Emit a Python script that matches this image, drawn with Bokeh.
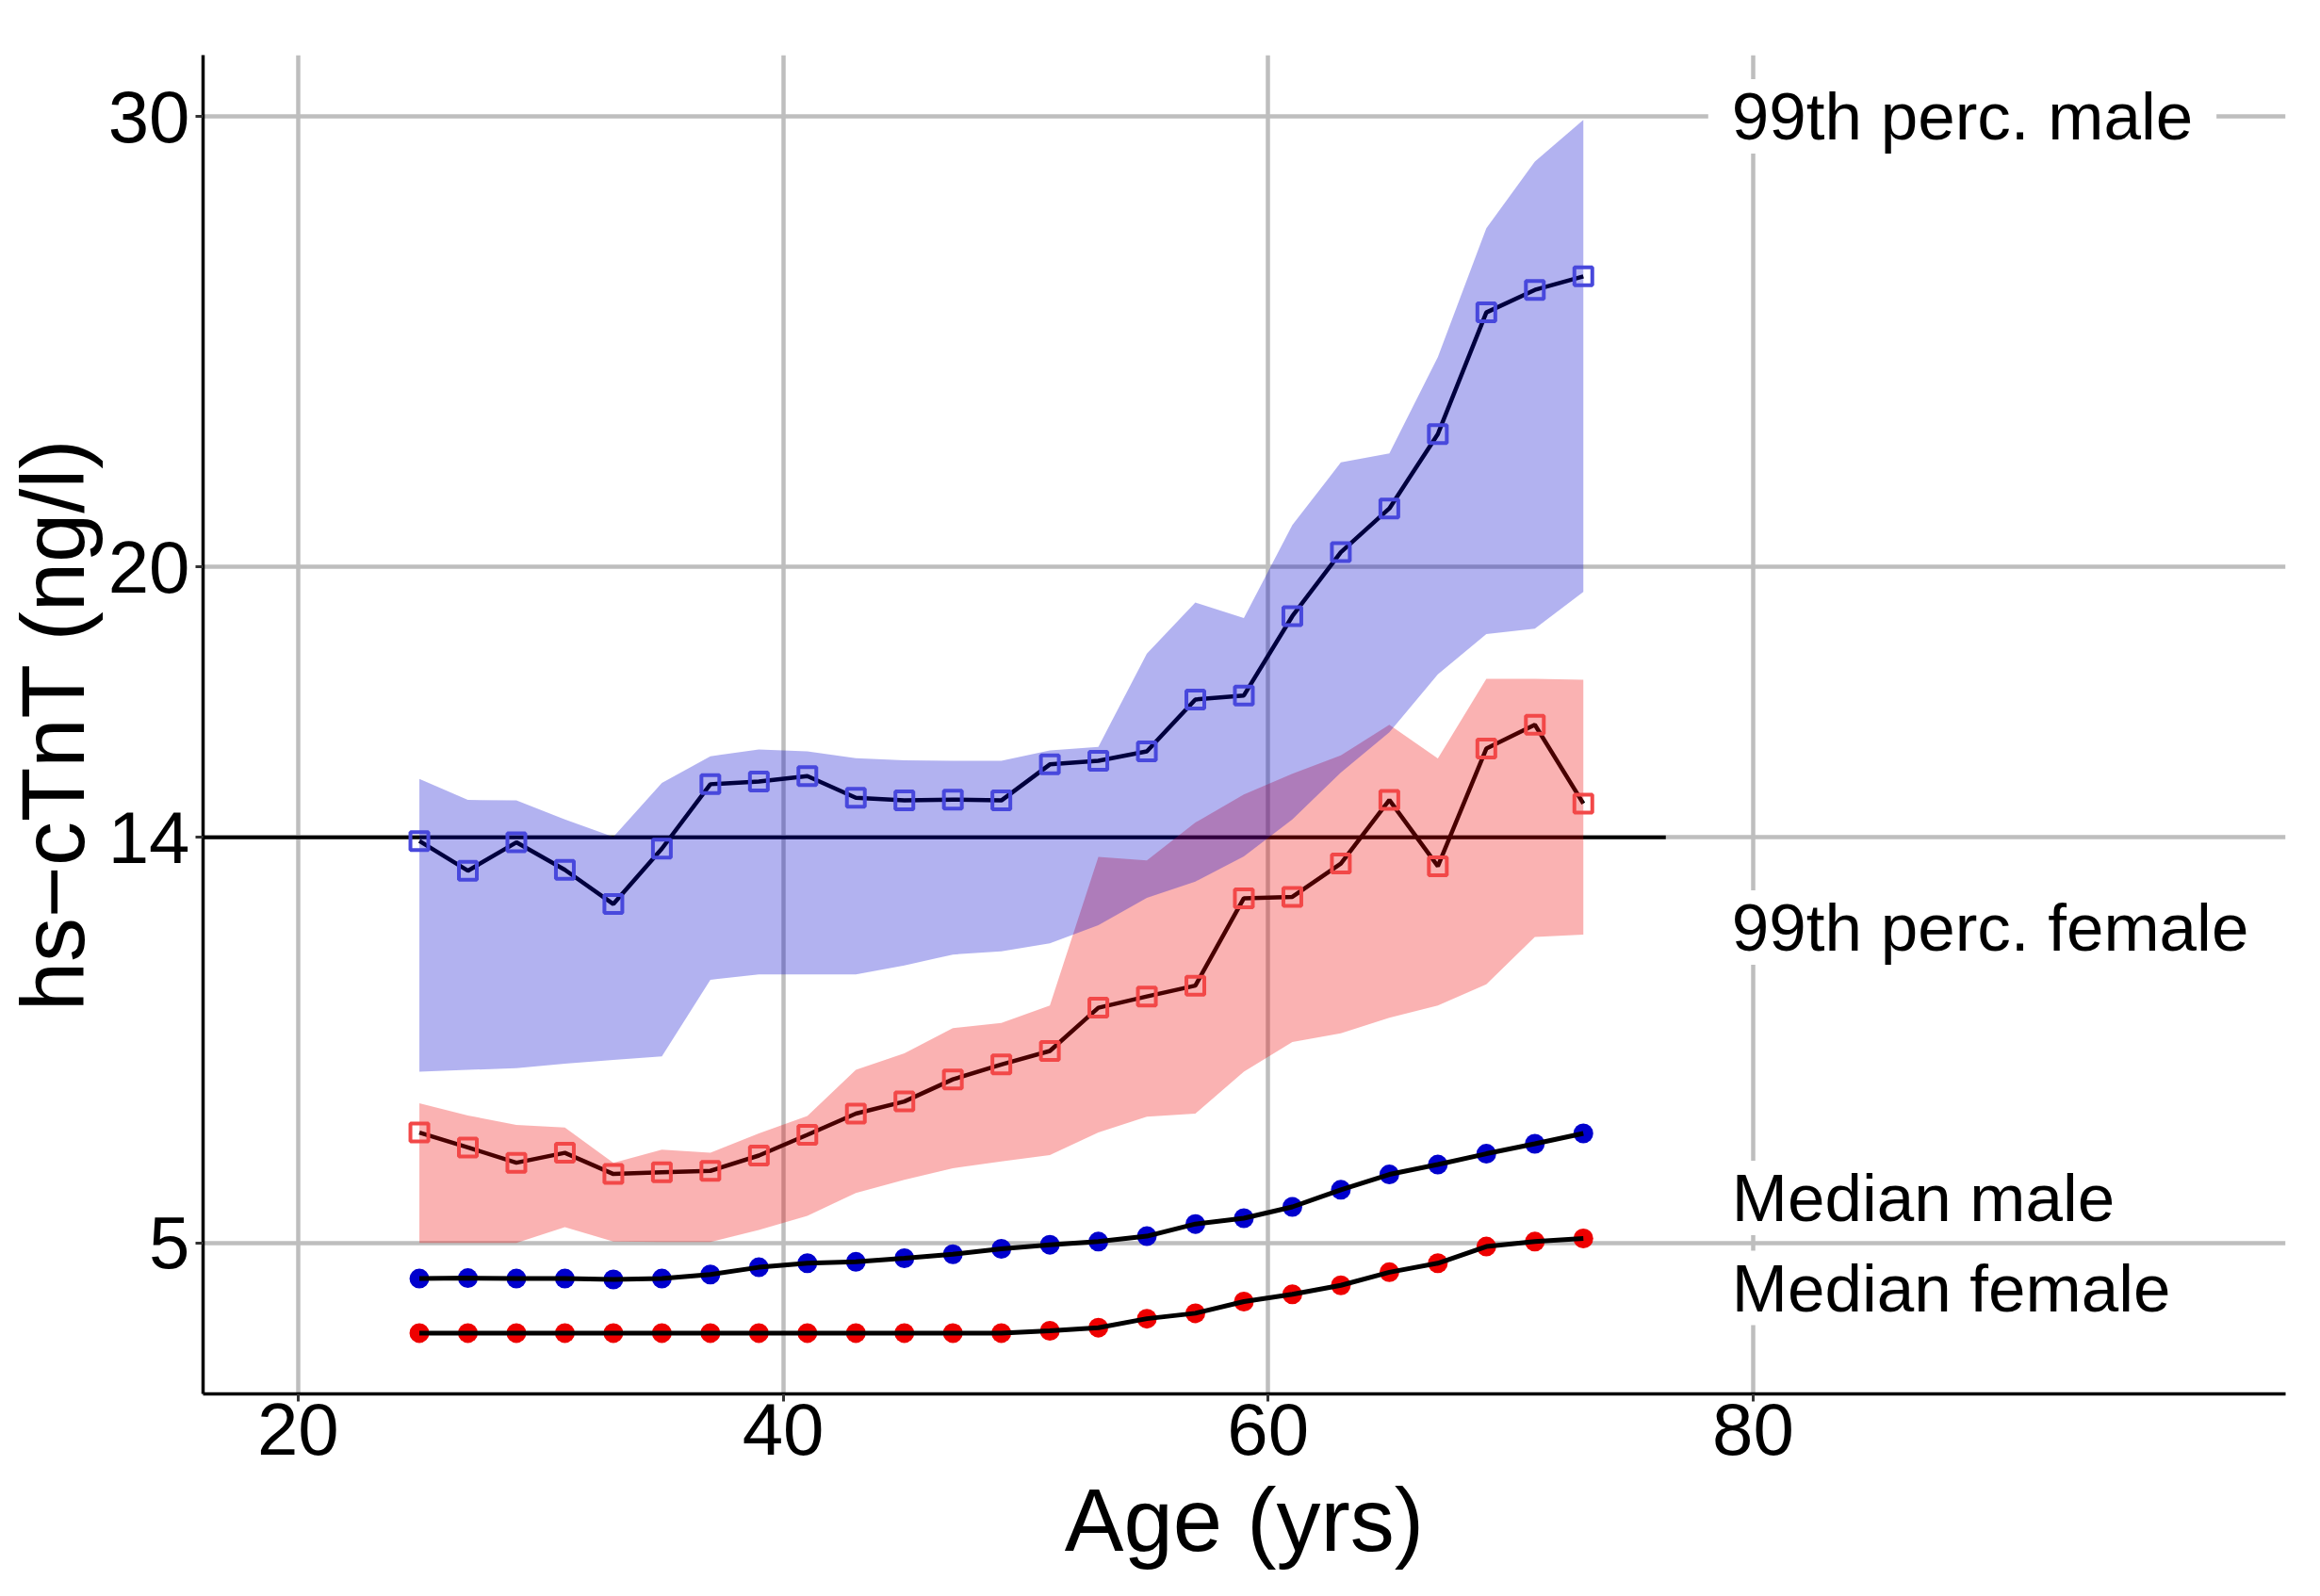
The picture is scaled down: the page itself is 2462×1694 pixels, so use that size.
from bokeh.plotting import figure
from bokeh.models import ColumnDataSource, FixedTicker, Range1d
from bokeh.core.properties import value
from bokeh.embed import file_html
from bokeh.resources import INLINE

# ---------------- data ----------------
ages = [25, 27, 29, 31, 33, 35, 37, 39, 41, 43, 45, 47, 49,
        51, 53, 55, 57, 59, 61, 63, 65, 67, 69, 71, 73]

male_p99 = [13.92, 13.26, 13.89, 13.28, 12.52, 13.75, 15.18, 15.24, 15.36, 14.88, 14.82, 14.84, 14.82,
            15.62, 15.70, 15.91, 17.06, 17.15, 18.91, 20.33, 21.30, 22.95, 25.65, 26.15, 26.45]
male_p99_hi = [15.30, 14.83, 14.82, 14.40, 14.01, 15.21, 15.80, 15.95, 15.91, 15.76, 15.71, 15.70, 15.70,
               15.93, 16.01, 18.08, 19.21, 18.87, 20.93, 22.32, 22.52, 24.66, 27.52, 29.00, 29.92]
male_p99_lo = [8.80, 8.84, 8.88, 8.98, 9.06, 9.14, 10.84, 10.96, 10.96, 10.96, 11.16, 11.40, 11.47,
               11.65, 12.05, 12.66, 13.02, 13.58, 14.40, 15.44, 16.33, 17.62, 18.51, 18.63, 19.45]

female_p99 = [7.45, 7.12, 6.78, 7.00, 6.53, 6.57, 6.60, 6.94, 7.40, 7.87, 8.14, 8.63, 8.96,
              9.26, 10.22, 10.47, 10.71, 12.65, 12.68, 13.42, 14.83, 13.36, 15.97, 16.50, 14.75]
female_p99_hi = [8.10, 7.83, 7.62, 7.56, 6.78, 7.07, 7.00, 7.43, 7.82, 8.84, 9.21, 9.77, 9.88,
                 10.27, 13.57, 13.49, 14.33, 14.95, 15.41, 15.82, 16.50, 15.75, 17.52, 17.52, 17.50]
female_p99_lo = [5.00, 5.00, 5.00, 5.35, 5.03, 5.02, 5.02, 5.29, 5.60, 6.11, 6.40, 6.66, 6.81,
                 6.95, 7.45, 7.80, 7.87, 8.80, 9.46, 9.65, 10.00, 10.27, 10.74, 11.79, 11.84]

male_median = [4.21, 4.22, 4.21, 4.21, 4.19, 4.21, 4.30, 4.46, 4.55, 4.58, 4.66, 4.75, 4.87,
               4.96, 5.03, 5.15, 5.42, 5.55, 5.80, 6.18, 6.52, 6.74, 6.98, 7.20, 7.43]
female_median = [3.00, 3.00, 3.00, 3.00, 3.00, 3.00, 3.00, 3.00, 3.00, 3.00, 3.00, 3.00, 3.00,
                 3.05, 3.12, 3.32, 3.44, 3.70, 3.86, 4.06, 4.35, 4.55, 4.92, 5.03, 5.10]

x_ticks = [20, 40, 60, 80]
y_ticks = [5, 14, 20, 30]

ref_level = 14          # horizontal reference line value
ref_line_end = 76.4     # where the reference line stops (age)

label_texts = ["99th perc. male", "99th perc. female", "Median male", "Median female"]
label_y = [30, 12, 6, 4]
label_x = [78.15, 78.15, 78.15, 78.15]

# ---------------- figure ----------------
FONT = "Liberation Sans"
x_lo, x_hi = 16.08, 101.96

p = figure(width=2440, height=1676, output_backend="svg", toolbar_location=None,
           x_range=Range1d(x_lo, x_hi), y_range=Range1d(1.65, 31.36),
           min_border_left=214, min_border_right=15, min_border_top=58, min_border_bottom=197)
p.outline_line_color = None
p.background_fill_color = "white"
p.border_fill_color = "white"

src = ColumnDataSource(dict(age=ages, mp=male_p99, mhi=male_p99_hi, mlo=male_p99_lo,
                            fp=female_p99, fhi=female_p99_hi, flo=female_p99_lo,
                            mm=male_median, fm=female_median))

# reference line and 99th-percentile lines (drawn beneath the ribbons)
p.segment(x0=[x_lo], y0=[ref_level], x1=[ref_line_end], y1=[ref_level],
          line_color="black", line_width=4)
p.line("age", "fp", source=src, line_color="black", line_width=4.5)
p.line("age", "mp", source=src, line_color="black", line_width=4.5)

# ribbons
p.varea(x="age", y1="flo", y2="fhi", source=src, fill_color="#EE0000", fill_alpha=0.3)
p.varea(x="age", y1="mlo", y2="mhi", source=src, fill_color="#0000CD", fill_alpha=0.3)

# squares
p.scatter("age", "fp", source=src, marker="square", size=19, fill_color=None,
          line_color="#F24848", line_width=4)
p.scatter("age", "mp", source=src, marker="square", size=19, fill_color=None,
          line_color="#4848DC", line_width=4)

# medians
p.scatter("age", "mm", source=src, marker="circle", size=21, fill_color="#0000CD", line_color=None)
p.scatter("age", "fm", source=src, marker="circle", size=21, fill_color="#EE0000", line_color=None)
p.line("age", "mm", source=src, line_color="black", line_width=5)
p.line("age", "fm", source=src, line_color="black", line_width=5)

# text labels
lsrc = ColumnDataSource(dict(x=label_x, y=label_y, t=label_texts))
p.text(x="x", y="y", text="t", source=lsrc, text_font=value(FONT), text_font_size="71px",
       text_color="black", text_align="left", text_baseline="middle",
       background_fill_color="white", padding=(25, 0))

# axes
p.xaxis.ticker = FixedTicker(ticks=x_ticks)
p.yaxis.ticker = FixedTicker(ticks=y_ticks)
p.xgrid.ticker = FixedTicker(ticks=x_ticks)
p.ygrid.ticker = FixedTicker(ticks=y_ticks)
for g in (p.xgrid, p.ygrid):
    g.grid_line_color = "#BEBEBE"
    g.grid_line_width = 4.5

p.xaxis.axis_label = "Age (yrs)"
p.yaxis.axis_label = "hs\u2212cTnT (ng/l)"
for ax in (p.xaxis, p.yaxis):
    ax.axis_line_color = "black"
    ax.axis_line_width = 3.5
    ax.major_tick_line_color = "#333333"
    ax.major_tick_line_width = 3
    ax.major_tick_out = 8
    ax.major_tick_in = 0
    ax.minor_tick_line_color = None
    ax.major_label_text_font = FONT
    ax.major_label_text_font_size = "78px"
    ax.major_label_text_color = "black"
    ax.axis_label_text_font = FONT
    ax.axis_label_text_font_size = "94px"
    ax.axis_label_text_font_style = "normal"
    ax.axis_label_text_color = "black"

p.xaxis.major_label_standoff = 2
p.xaxis.axis_label_standoff = 14
p.yaxis.major_label_standoff = 6
p.yaxis.axis_label_standoff = 3

open("out.html", "w").write(file_html(p, INLINE))
